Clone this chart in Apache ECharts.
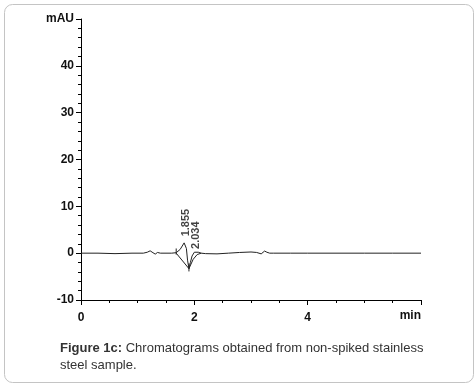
<!DOCTYPE html>
<html>
<head>
<meta charset="utf-8">
<script src="https://cdn.jsdelivr.net/npm/echarts@6/dist/echarts.min.js"></script>
<style>
  html, body { margin: 0; padding: 0; background: #fff; }
  #chart { width: 474px; height: 383px; }
</style>
</head>
<body>
<div id="chart"></div>
<script>
// chromatogram trace (min, mAU)
const times = [0, 0.3, 0.6, 0.9, 1.1, 1.17, 1.22, 1.27, 1.31, 1.35, 1.4, 1.5, 1.6, 1.68, 1.75, 1.82, 1.845, 1.86, 1.88, 1.905, 1.93, 1.96, 2.0, 2.034, 2.07, 2.12, 2.2, 2.4, 2.6, 2.8, 3.0, 3.1, 3.18, 3.24, 3.28, 3.33, 3.4, 3.7, 4.0, 4.5, 5.0, 5.5, 6.0]
const signal = [0, 0, -0.1, 0, 0, 0.2, 0.5, 0.1, -0.2, 0.15, 0, 0, 0, 0.1, 0.8, 2.2, 2.6, 1.0, -1.5, -3.3, -2.0, -0.6, 0.2, 0.5, 0.2, 0, -0.1, -0.15, 0, 0.15, 0.25, 0.15, -0.15, 0.45, 0.2, 0, 0, 0, 0, 0, 0, 0, 0]

// integration baseline marks
const base1X = [1.68, 1.905]
const base1Y = [0, -3.3]
const base2X = [1.905, 1.98, 2.05, 2.12]
const base2Y = [-3.3, -1.3, -0.3, 0]
const dropX = [1.905, 1.905]
const dropY = [-2.2, -3.9]
const tickX = [1.68, 1.68]
const tickY = [-0.3, 1.0]

// peak labels
const peakTimes = [1.855, 2.034]
const peakHeights = [3.6, 0.9]

const zip = (xs, ys) => xs.map((x, i) => [x, ys[i]])

const lineStyle = { color: '#222', width: 1 }
const segment = (xs, ys) => ({
  type: 'line', data: zip(xs, ys), symbol: 'none', smooth: false,
  lineStyle: lineStyle, silent: true
})

const chart = echarts.init(document.getElementById('chart'))
chart.setOption({
  backgroundColor: '#fff',
  animation: false,
  grid: { left: 81, right: 53, top: 19, bottom: 83 },
  xAxis: {
    type: 'value', min: 0, max: 6, interval: 2,
    axisLine: { onZero: false, lineStyle: { color: '#000', width: 1 } },
    axisTick: { length: 5, lineStyle: { color: '#000' } },
    minorTick: { show: true, splitNumber: 4, length: 3, lineStyle: { color: '#000' } },
    splitLine: { show: false },
    axisLabel: {
      color: '#111', fontFamily: 'Liberation Sans', fontWeight: 'bold', fontSize: 12, margin: 12,
      formatter: v => (v === 6 ? '' : String(v))
    },
    name: 'min', nameLocation: 'end', nameGap: 0,
    nameTextStyle: {
      color: '#111', fontFamily: 'Liberation Sans', fontWeight: 'bold', fontSize: 12,
      align: 'right', verticalAlign: 'top', padding: [10, 0, 0, 0]
    }
  },
  yAxis: {
    type: 'value', min: -10, max: 50, interval: 10,
    axisLine: { show: true, lineStyle: { color: '#000', width: 1 } },
    axisTick: { length: 5, lineStyle: { color: '#000' } },
    minorTick: { show: true, splitNumber: 5, length: 3, lineStyle: { color: '#000' } },
    splitLine: { show: false },
    axisLabel: {
      color: '#111', fontFamily: 'Liberation Sans', fontWeight: 'bold', fontSize: 12, margin: 7,
      formatter: v => (v === 50 ? 'mAU' : String(v))
    }
  },
  series: [
    segment(times, signal),
    segment(base1X, base1Y),
    segment(base2X, base2Y),
    segment(dropX, dropY),
    segment(tickX, tickY),
    {
      type: 'scatter', symbolSize: 0, silent: true,
      data: zip(peakTimes, peakHeights),
      label: {
        show: true, position: 'inside', rotate: 90, align: 'left', verticalAlign: 'middle',
        color: '#111', fontFamily: 'Liberation Sans', fontWeight: 'bold', fontSize: 11,
        formatter: p => p.value[0].toFixed(3)
      }
    }
  ],
  graphic: [
    {
      type: 'rect', left: 2, top: 2, silent: true,
      shape: { width: 469, height: 378, r: 8 },
      style: { fill: 'none', stroke: '#c4c4c4', lineWidth: 1 }
    },
    {
      type: 'text', left: 60, top: 340, silent: true,
      style: {
        text: '{b|Figure 1c:} Chromatograms obtained from non-spiked stainless\nsteel sample.',
        fontFamily: 'Liberation Sans', fontSize: 13, fill: '#333', lineHeight: 17,
        rich: { b: { fontWeight: 'bold', fontFamily: 'Liberation Sans', fontSize: 13, fill: '#333' } }
      }
    }
  ]
})
</script>
</body>
</html>
